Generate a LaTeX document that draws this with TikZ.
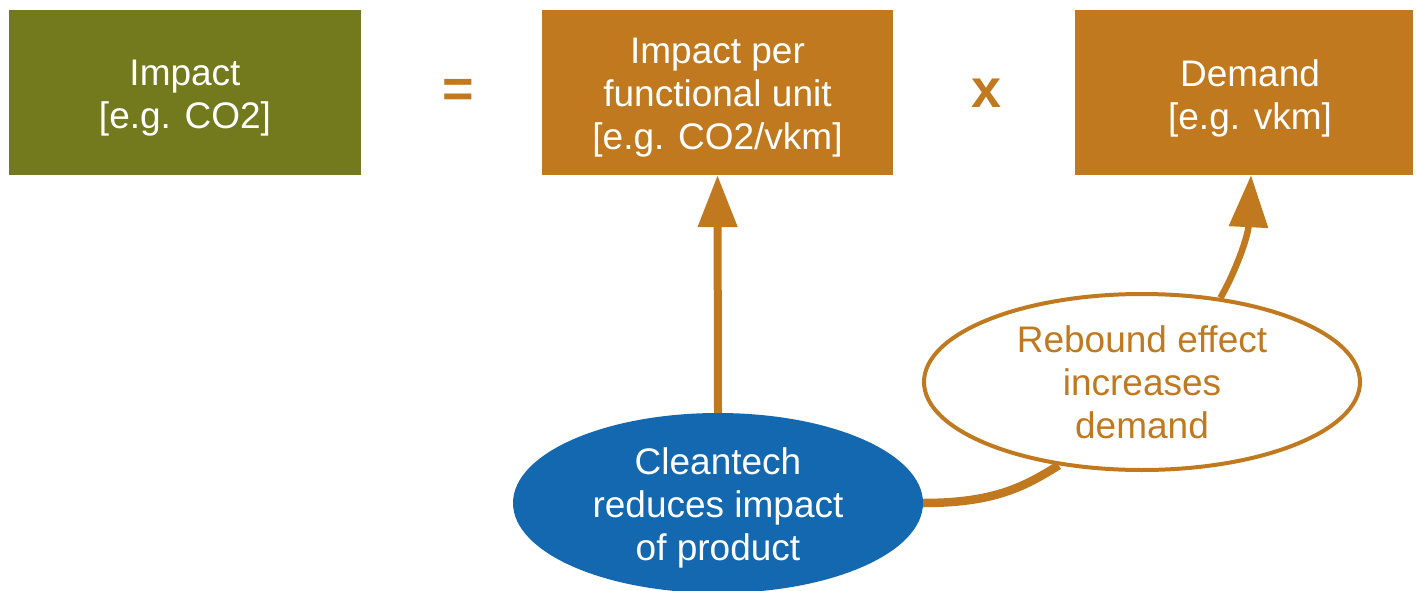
\documentclass[tikz,border=0pt]{standalone}
\usepackage{fontspec}
\setmainfont{Liberation Sans}
\usetikzlibrary{shapes.geometric,arrows.meta}
\definecolor{cOlive}{RGB}{115,122,30}
\definecolor{cOrange}{RGB}{192,121,31}
\definecolor{cBlue}{RGB}{20,104,176}
\newcommand\mainfs{\fontsize{37}{43}\selectfont}
\newcommand\opfs{\fontsize{54}{60}\selectfont\bfseries}
\begin{document}
\begin{tikzpicture}[x=1pt,y=-1pt,
  box/.style={rectangle, inner sep=0pt, minimum height=165pt},
  lbl/.style={inner sep=0pt, align=center, font=\mainfs},
  oval/.style={ellipse, inner sep=0pt},
  op/.style={text=cOrange, font=\opfs, anchor=base, inner sep=0pt},
  conn/.style={draw=cOrange, line cap=butt},
  bigtip/.style={-{Triangle[length=52pt,width=38pt]}}
]
\useasboundingbox (0,0) rectangle (1416,591);
\node[box, fill=cOlive, minimum width=352pt] (impact) at (185,92.5) {};
\node[lbl, text=white] (impactT) at ([yshift=-5.5pt]impact.center) {Impact\\{[e.g. CO2]}};
\node[op] (eq) at (458,108) {=};
\node[box, fill=cOrange, minimum width=351pt] (ipfu) at (717.5,92.5) {};
\node[lbl, text=white] (ipfuT) at ([yshift=-5.5pt]ipfu.center) {Impact per\\functional unit\\{[e.g. CO2/vkm]}};
\node[op] (times) at (987,108) {x};
\node[box, fill=cOrange, minimum width=338pt] (demand) at (1244,92.5) {};
\node[lbl, text=white] (demandT) at ([xshift=6pt,yshift=-5.5pt]demand.center) {Demand\\{[e.g. vkm]}};
\node[oval, fill=cBlue, minimum width=410pt, minimum height=180pt] (clean) at (718,503) {};
\node[lbl, text=white] (cleanT) at ([yshift=-5pt]clean.center) {Cleantech\\reduces impact\\of product};
\node[oval, draw=cOrange, line width=4pt, fill=white, minimum width=436pt, minimum height=176pt] (rebound) at (1142,382) {};
\node[lbl, text=cOrange] (reboundT) at ([yshift=-0.5pt]rebound.center) {Rebound effect\\increases\\demand};
\draw[conn, line width=8pt, bigtip] (clean.north) -- (ipfu.south);
\draw[conn, line width=8.5pt] (clean.east) .. controls +(70,0) and +(-35,22) .. (rebound.225);
\draw[conn, line width=6.5pt, bigtip] (rebound.47) .. controls +(14,-24) and +(-3,62) .. ([xshift=7pt]demand.south);
\end{tikzpicture}
\end{document}
